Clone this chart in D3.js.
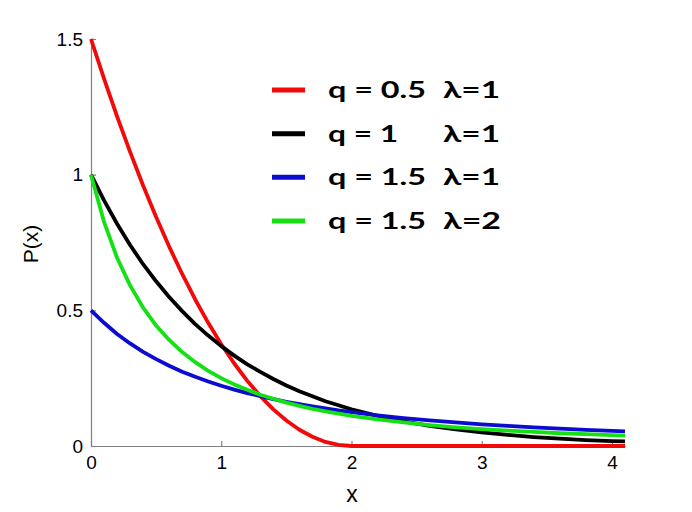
<!DOCTYPE html>
<html>
<head>
<meta charset="utf-8">
<script src="https://cdn.jsdelivr.net/npm/d3@7"></script>
<style>
  body { margin: 0; background: #fff; }
  svg { display: block; }
</style>
</head>
<body>
<svg></svg>
<script>
// values
var xValues = [0, 0.1, 0.2, 0.3, 0.4, 0.5, 0.6, 0.7, 0.8, 0.9, 1.0,
               1.1, 1.2, 1.3, 1.4, 1.5, 1.6, 1.7, 1.8, 1.9, 2.0,
               2.2, 2.4, 2.6, 2.8, 3.0, 3.2, 3.4, 3.6, 3.8, 4.0, 4.1];

var redVals   = [1.5, 1.354, 1.215, 1.084, 0.96, 0.844, 0.735, 0.634, 0.54, 0.454, 0.375,
                 0.304, 0.24, 0.184, 0.135, 0.094, 0.06, 0.034, 0.015, 0.004, 0,
                 0, 0, 0, 0, 0, 0, 0, 0, 0, 0, 0];
var blackVals = [1, 0.905, 0.819, 0.741, 0.670, 0.607, 0.549, 0.497, 0.449, 0.407, 0.368,
                 0.333, 0.301, 0.273, 0.247, 0.223, 0.202, 0.183, 0.165, 0.150, 0.135,
                 0.111, 0.091, 0.074, 0.061, 0.050, 0.041, 0.033, 0.027, 0.022, 0.018, 0.017];
var blueVals  = [0.5, 0.454, 0.413, 0.378, 0.347, 0.32, 0.296, 0.274, 0.255, 0.238, 0.222,
                 0.208, 0.195, 0.184, 0.173, 0.163, 0.154, 0.146, 0.139, 0.131, 0.125,
                 0.113, 0.103, 0.0945, 0.0868, 0.08, 0.074, 0.0686, 0.0638, 0.0595, 0.0556, 0.0537];
var greenVals = [1, 0.826, 0.694, 0.592, 0.510, 0.444, 0.391, 0.346, 0.309, 0.277, 0.25,
                 0.227, 0.207, 0.189, 0.174, 0.16, 0.148, 0.137, 0.128, 0.119, 0.111,
                 0.098, 0.087, 0.077, 0.069, 0.0625, 0.057, 0.052, 0.047, 0.044, 0.04, 0.038];

var seriesNames  = ["q = 0.5", "q = 1", "q = 1.5", "q = 1.5"];
var lambdaLabels = ["\u03bb=1", "\u03bb=1", "\u03bb=1", "\u03bb=2"];
var seriesColors = ["#f20a0a", "#000000", "#0c0cd0", "#14e014"];
var seriesVals   = [redVals, blackVals, blueVals, greenVals];

var xTicks = [0, 1, 2, 3, 4];
var yTicks = [0, 0.5, 1, 1.5];

var W = 692, H = 512;
var svg = d3.select("svg").attr("width", W).attr("height", H);

var x = d3.scaleLinear().domain([0, 4.1]).range([91, 625]);
var y = d3.scaleLinear().domain([0, 1.5]).range([446, 39]);

//axes
var xAxis = d3.axisBottom(x).tickValues(xTicks).tickFormat(d3.format("d"))
    .tickSizeInner(-5).tickSizeOuter(0).tickPadding(10);
var yAxis = d3.axisLeft(y).tickValues(yTicks).tickFormat(function(d){ return d; })
    .tickSizeInner(-5).tickSizeOuter(0).tickPadding(8);

var gx = svg.append("g").attr("transform", "translate(0,446)").call(xAxis);
var gy = svg.append("g").attr("transform", "translate(91,0)").call(yAxis);

[gx, gy].forEach(function(g){
    g.selectAll("path,line").attr("stroke", "#808080").attr("stroke-width", 1.2);
    g.selectAll("text").attr("fill", "#000")
        .style("font-family", "Arial, 'Liberation Sans', sans-serif")
        .style("font-size", "19px");
});

//curves
var line = d3.line()
    .x(function(d, i){ return x(xValues[i]); })
    .y(function(d){ return y(d); });

seriesVals.forEach(function(vals, k){
    svg.append("path")
        .datum(vals)
        .attr("d", line)
        .attr("fill", "none")
        .attr("stroke", seriesColors[k])
        .attr("stroke-width", 3.8)
        .attr("stroke-linejoin", "round");
});

//axis labels
svg.append("text")
    .attr("x", 352).attr("y", 502)
    .attr("text-anchor", "middle")
    .style("font-family", "Arial, 'Liberation Sans', sans-serif")
    .style("font-size", "23px")
    .text("x");

svg.append("text")
    .attr("transform", "translate(38,244) rotate(-90)")
    .attr("text-anchor", "middle")
    .style("font-family", "Arial, 'Liberation Sans', sans-serif")
    .style("font-size", "21px")
    .text("P(x)");

//legend
var legend = svg.append("g");
var rowY = d3.scaleLinear().domain([0, 3]).range([90, 221]);
var nameWidths = [98, 70, 98, 98];
var lambdaWidths = [57, 57, 57, 58];

seriesNames.forEach(function(name, k){
    var ly = rowY(k);
    legend.append("line")
        .attr("x1", 272).attr("x2", 305)
        .attr("y1", ly).attr("y2", ly)
        .attr("stroke", seriesColors[k])
        .attr("stroke-width", 5);
    legend.append("text")
        .attr("x", 328).attr("y", ly + 8)
        .attr("textLength", nameWidths[k])
        .attr("lengthAdjust", "spacingAndGlyphs")
        .style("font-family", "Lato, 'Open Sans', sans-serif")
        .style("font-weight", "bold")
        .style("font-size", "23px")
        .text(name);
    legend.append("text")
        .attr("x", 443).attr("y", ly + 8)
        .attr("textLength", lambdaWidths[k])
        .attr("lengthAdjust", "spacingAndGlyphs")
        .style("font-family", "Lato, 'Open Sans', sans-serif")
        .style("font-weight", "bold")
        .style("font-size", "23px")
        .text(lambdaLabels[k]);
});
</script>
</body>
</html>
